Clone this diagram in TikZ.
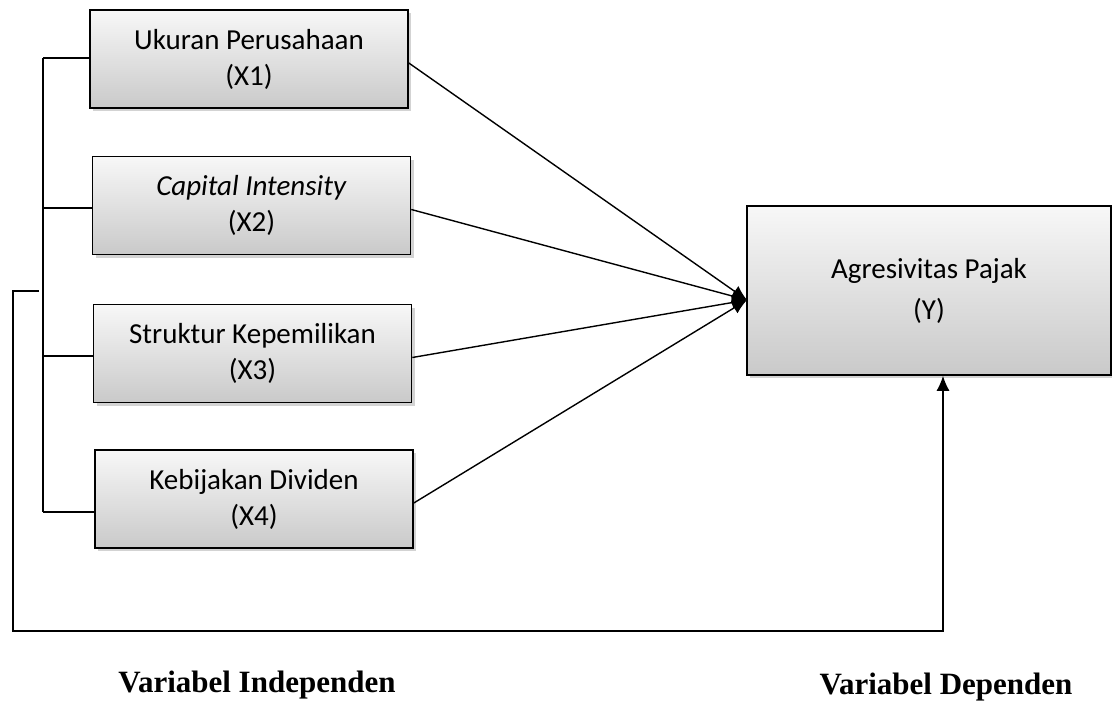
\documentclass[tikz,border=0pt]{standalone}
\usepackage{fontspec}
\setmainfont{Carlito}
\newfontfamily\labelfont{Liberation Serif}
\usetikzlibrary{arrows.meta,shadows}

\begin{document}
\begin{tikzpicture}[x=1pt,y=-1pt,
	varbox/.style={draw,line width=1.6pt,top color=gray!6,bottom color=gray!42,
		drop shadow={shadow xshift=3pt,shadow yshift=-3pt,opacity=0.35},
		inner sep=0pt,align=center,font=\fontsize{29}{36}\selectfont},
	bus/.style={line width=1.4pt},
	link/.style={line width=1.4pt,-{Latex[length=15pt,width=13pt]}},
	varlabel/.style={anchor=base,font=\labelfont\bfseries\fontsize{31}{36}\selectfont}]
	\useasboundingbox (0,0) rectangle (1112,704);
	\foreach \name/\txt/\x/\y in {X1/{Ukuran Perusahaan\\(X1)}/249/59, X2/{\textit{Capital Intensity}\\(X2)}/251.5/205.5, X3/{Struktur Kepemilikan\\(X3)}/252.5/353.5, X4/{Kebijakan Dividen\\(X4)}/254/499}
	{
		\node[varbox,minimum width=318pt,minimum height=98pt] (\name) at (\x,\y) {\txt};
	}
	\node[varbox,minimum width=364pt,minimum height=169pt,font=\fontsize{29}{41}\selectfont] (Y) at (929,290.5) {Agresivitas Pajak\\(Y)};
	% garis penghubung variabel independen
	\foreach \name/\y in {X1/58, X2/208, X3/356, X4/512}
	{
		\coordinate (b\name) at (43,\y);
		\draw[bus] (b\name) -- (b\name -| \name.west);
	}
	\draw[bus] (bX1) -- (bX4);
	\coordinate (tip) at (747,300);
	\foreach \i in {1,...,4}
	{
		\draw[link] ([yshift=-4pt]X\i.east) -- (tip);
	}
	% pengaruh simultan
	\coordinate (fb) at (39,291);
	\coordinate (fc) at (13,631);
	\coordinate (fd) at (943,631);
	\draw[link] (fb) -- (fb -| fc) -- (fc) -- (fd) -- (fd |- Y.south);
	\node[varlabel] (indep) at (257,692) {Variabel Independen};
	\node[varlabel] (dep) at (946,694) {Variabel Dependen};
\end{tikzpicture}
\end{document}
